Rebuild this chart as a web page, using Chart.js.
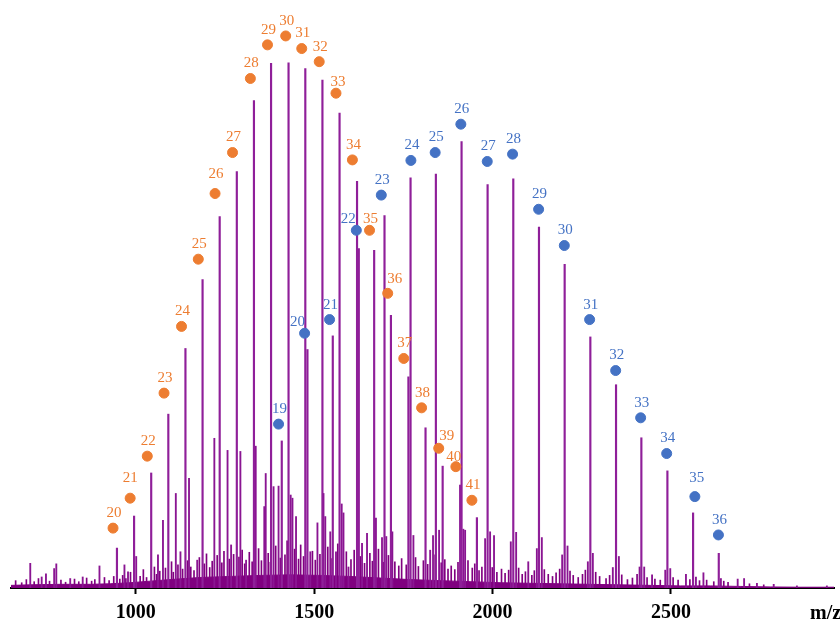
<!DOCTYPE html>
<html>
<head>
<meta charset="utf-8">
<script src="https://cdn.jsdelivr.net/npm/chart.js"></script>
<style>
    body { margin: 0; background: #fff; }
    #spectrum { display: block; }
</style>
</head>
<body>
<canvas id="spectrum" width="840" height="622"></canvas>
<script>
// Axis ticks
const xTicks = [1000, 1500, 2000, 2500]

// Orange series (labels 20-41)
const orangeLabels = [20, 21, 22, 23, 24, 25, 26, 27, 28, 29, 30, 31, 32, 33, 34, 35, 36, 37, 38, 39, 40, 41]
const orangePeakMz = [947, 995, 1043, 1091, 1139, 1187, 1235, 1283, 1331, 1379, 1428, 1475, 1523, 1571, 1620, 1668, 1715, 1764, 1812, 1860, 1909, 1956]
const orangePeakInt = [7.6, 13.7, 21.9, 33.1, 45.6, 58.7, 70.7, 79.3, 92.8, 99.9, 100, 98.9, 96.7, 90.4, 77.4, 64.3, 51.9, 40.2, 30.5, 23.2, 19.6, 13.4]
const orangeDotMz = [936, 984, 1032, 1079, 1128, 1175, 1222, 1271, 1321, 1369, 1420, 1465, 1514, 1561, 1607, 1655, 1706, 1751, 1801, 1849, 1897, 1942]
const orangeDotInt = [11.4, 17.1, 25.1, 37.1, 49.8, 62.6, 75.1, 82.9, 97.0, 103.4, 105.1, 102.7, 100.2, 94.2, 81.5, 68.1, 56.1, 43.7, 34.3, 26.6, 23.1, 16.7]

// Blue series (labels 19-36)
const blueLabels = [19, 20, 21, 22, 23, 24, 25, 26, 27, 28, 29, 30, 31, 32, 33, 34, 35, 36]
const bluePeakMz = [1409, 1481, 1552, 1625, 1697, 1770, 1841, 1913, 1986, 2058, 2130, 2202, 2274, 2346, 2417, 2490, 2562, 2634]
const bluePeakInt = [28.0, 45.4, 48.0, 64.6, 70.9, 78.1, 78.8, 85.0, 76.8, 77.9, 68.7, 61.6, 47.8, 38.7, 28.6, 22.3, 14.3, 6.6]
const blueDotMz = [1400, 1473, 1543, 1618, 1688, 1771, 1839, 1911, 1985, 2056, 2129, 2201, 2272, 2345, 2415, 2488, 2567, 2633]
const blueDotInt = [31.2, 48.5, 51.1, 68.1, 74.8, 81.4, 82.9, 88.3, 81.2, 82.6, 72.1, 65.2, 51.1, 41.4, 32.4, 25.6, 17.4, 10.1]

// Other peaks
const minorMz = [704, 736, 748, 771, 777, 816, 851, 898, 968, 978, 1001, 1062, 1076, 1112, 1125, 1149, 1172, 1220, 1257, 1267,
    1293, 1309, 1336, 1360, 1364, 1386, 1400, 1434, 1439, 1449, 1489, 1509, 1526, 1531, 1545, 1561, 1577, 1582, 1596, 1634,
    1648, 1673, 1690, 1702, 1719, 1778, 1825, 1833, 1850, 1918, 1923, 1979, 1993, 2004, 2051, 2066, 2100, 2124, 2138, 2195,
    2210, 2267, 2281, 2337, 2354, 2412, 2425, 2447, 2484, 2498, 2542, 2570, 2591, 2640, 2687, 2705, 2741, 2788, 2853, 2937]
const minorInt = [4.7, 2.1, 2.7, 3.7, 4.6, 1.8, 2.1, 4.2, 4.4, 3.1, 6.0, 6.3, 12.9, 18, 6.9, 20.9, 5.3, 28.5, 26.2, 8.2,
    26, 5.3, 27, 15.5, 21.8, 19.3, 19.4, 17.7, 17.1, 13.6, 6.9, 12.4, 18, 13.6, 10.7, 6.9, 16, 14.3, 4, 8.5,
    10.4, 13.3, 9.6, 9.8, 10.7, 10, 7.2, 10, 11, 11.2, 11, 9.4, 10.7, 10, 8.8, 10.6, 5, 7.5, 9.6, 6.3,
    8, 5, 6.6, 3.9, 6, 4, 4, 2.5, 3.4, 3.7, 2.6, 2.1, 2.9, 1.8, 1.7, 1.8, 0.9, 0.7, 0.4, 0.4]

// Small baseline spikes ("grass")
const grassMz = [663, 680, 693, 715, 727, 758, 790, 803, 828, 840, 862, 876, 885, 912, 925, 938, 955,
    963, 972, 985, 1012, 1021, 1030, 1052, 1058, 1067, 1083, 1100, 1105, 1118, 1131, 1145, 1154, 1163, 1178, 1192,
    1198, 1207, 1214, 1228, 1241, 1247, 1262, 1274, 1289, 1298, 1305, 1318, 1326, 1344, 1352, 1371, 1377, 1392, 1405,
    1418, 1424, 1445, 1456, 1462, 1470, 1495, 1503, 1516, 1538, 1550, 1566, 1590, 1603, 1612, 1629, 1641, 1656, 1663,
    1680, 1694, 1708, 1726, 1737, 1745, 1758, 1784, 1792, 1806, 1818, 1839, 1856, 1866, 1875, 1884, 1894, 1903, 1931,
    1943, 1950, 1962, 1970, 1999, 2012, 2025, 2035, 2045, 2073, 2083, 2092, 2110, 2117, 2145, 2156, 2168, 2178, 2188,
    2217, 2226, 2240, 2252, 2260, 2289, 2300, 2318, 2328, 2362, 2378, 2392, 2405, 2433, 2455, 2470, 2506, 2520, 2553,
    2580, 2600, 2620, 2648, 2660, 2720, 2760]
const grassInt = [1.4, 1.0, 1.6, 1.2, 1.8, 1.3, 1.5, 1.1, 1.7, 1.2, 1.9, 1.3, 1.6, 2.0, 1.4, 2.2, 1.7,
    2.4, 1.8, 3.0, 2.2, 3.5, 2.0, 4.0, 2.6, 3.2, 3.8, 5.0, 3.0, 4.4, 3.6, 5.2, 4.0, 3.3, 5.8, 4.6,
    6.5, 3.9, 5.1, 6.2, 4.8, 7.0, 5.5, 6.4, 5.9, 7.2, 4.6, 6.8, 5.0, 7.5, 5.2, 6.6, 4.9, 8.0, 5.7,
    6.3, 9.0, 7.4, 5.5, 8.2, 6.0, 7.0, 5.3, 6.4, 7.8, 5.6, 8.4, 6.9, 5.4, 7.2, 6.0, 4.7, 6.6, 5.1,
    7.4, 4.9, 6.2, 5.0, 4.2, 5.6, 4.4, 5.8, 4.1, 5.2, 4.5, 6.3, 4.8, 5.4, 3.6, 4.2, 3.5, 4.9, 5.2,
    3.8, 4.6, 3.3, 4.0, 3.9, 3.0, 3.6, 2.8, 3.4, 3.8, 2.6, 3.1, 2.4, 3.3, 3.5, 2.6, 2.2, 2.9, 3.6,
    3.2, 2.4, 2.0, 2.6, 3.4, 3.0, 2.2, 1.8, 2.4, 2.5, 1.6, 1.9, 2.6, 2.0, 1.7, 1.5, 2.0, 1.5, 1.6,
    1.4, 1.5, 1.2, 1.3, 1.1, 0.8, 0.6]

// Noise floor
const floorMz = [650, 704, 788, 872, 928, 984, 1040, 1096, 1180, 1264, 1349, 1433, 1517, 1600, 1685, 1769, 1853, 1937, 2021, 2105,
    2189, 2273, 2357, 2442, 2526, 2610, 2694, 2778, 2862, 2960]
const floorInt = [0.5, 0.6, 0.7, 0.7, 0.8, 1.0, 1.3, 1.6, 2.0, 2.2, 2.4, 2.5, 2.4, 2.2, 1.9, 1.6, 1.4, 1.2, 1.0, 0.9,
    0.8, 0.7, 0.6, 0.5, 0.4, 0.4, 0.3, 0.2, 0.15, 0.15]

const ORANGE = "#ED7D31"
const BLUE = "#4472C4"
const PURPLE = "#8f1f99"
const SERIF = "'Liberation Serif', 'Times New Roman', serif"

const pts = (xs, ys) => xs.map((x, i) => ({ x: x, y: ys[i] }))

// label nudges where the picture puts a number off-centre
const labelNudge = {
    "o21": [0, -20], "o26": [1, -19], "o33": [2, -11], "o35": [1, -11], "o36": [7, -14],
    "o39": [8, -12], "o40": [-2, -10], "b20": [-7, -11], "b22": [-8, -11], "b35": [2, -19],
}

const peakLabels = {
    id: "peakLabels",
    afterDatasetsDraw(chart) {
        const ctx = chart.ctx
        ctx.save()
        ctx.font = "15px " + SERIF
        ctx.textAlign = "center"
        ctx.textBaseline = "middle"
        chart.data.datasets.forEach((ds, di) => {
            if (!ds.numbers) return
            const meta = chart.getDatasetMeta(di)
            ctx.fillStyle = ds.backgroundColor
            meta.data.forEach((pt, i) => {
                const key = ds.key + ds.numbers[i]
                const n = labelNudge[key] || [1, -15]
                ctx.fillText(String(ds.numbers[i]), pt.x + n[0], pt.y + n[1])
            })
        })
        // axis title, cut by the right edge as in the figure
        ctx.fillStyle = "#000"
        ctx.font = "bold 20px " + SERIF
        ctx.textAlign = "left"
        ctx.textBaseline = "alphabetic"
        ctx.fillText("m/z", 810, 619)
        ctx.restore()
    },
}

new Chart(document.getElementById("spectrum"), {
    type: "bar",
    data: {
        datasets: [
            {
                type: "scatter",
                key: "o",
                data: pts(orangeDotMz, orangeDotInt),
                numbers: orangeLabels,
                backgroundColor: ORANGE,
                borderColor: ORANGE,
                pointRadius: 5,
                order: 0,
            },
            {
                type: "scatter",
                key: "b",
                data: pts(blueDotMz, blueDotInt),
                numbers: blueLabels,
                backgroundColor: BLUE,
                borderColor: BLUE,
                pointRadius: 5,
                order: 0,
            },
            {
                data: pts(orangePeakMz, orangePeakInt),
                backgroundColor: PURPLE,
                barThickness: 1.5,
                grouped: false,
                order: 1,
            },
            {
                data: pts(bluePeakMz, bluePeakInt),
                backgroundColor: PURPLE,
                barThickness: 1.5,
                grouped: false,
                order: 1,
            },
            {
                data: pts(minorMz, minorInt),
                backgroundColor: "#8a1592",
                barThickness: 1.2,
                grouped: false,
                order: 2,
            },
            {
                data: pts(grassMz, grassInt),
                backgroundColor: "#800080",
                barThickness: 1,
                grouped: false,
                order: 3,
            },
            {
                type: "line",
                data: pts(floorMz, floorInt),
                borderColor: "#800080",
                backgroundColor: "#800080",
                borderWidth: 1,
                pointRadius: 0,
                fill: "origin",
                order: 4,
            },
        ],
    },
    options: {
        responsive: false,
        animation: false,
        layout: { padding: { left: 11, right: 0, top: 0, bottom: 0 } },
        plugins: {
            legend: { display: false },
            tooltip: { enabled: false },
        },
        scales: {
            x: {
                type: "linear",
                min: 650,
                max: 2957,
                offset: false,
                afterBuildTicks: (s) => {
                    s.ticks = xTicks.map((v) => ({ value: v }))
                },
                afterFit: (s) => {
                    s.height = 34
                },
                grid: {
                    offset: false,
                    drawOnChartArea: false,
                    drawTicks: true,
                    tickLength: 6,
                    tickWidth: 2,
                    tickColor: "#000",
                },
                border: { color: "#000", width: 2 },
                ticks: {
                    color: "#000",
                    padding: 7,
                    maxRotation: 0,
                    autoSkip: false,
                    font: { family: SERIF, size: 20, weight: "bold" },
                    callback: (v) => String(v),
                },
            },
            y: {
                display: false,
                min: 0,
                max: 110.8,
            },
        },
    },
    plugins: [peakLabels],
})
</script>
</body>
</html>
